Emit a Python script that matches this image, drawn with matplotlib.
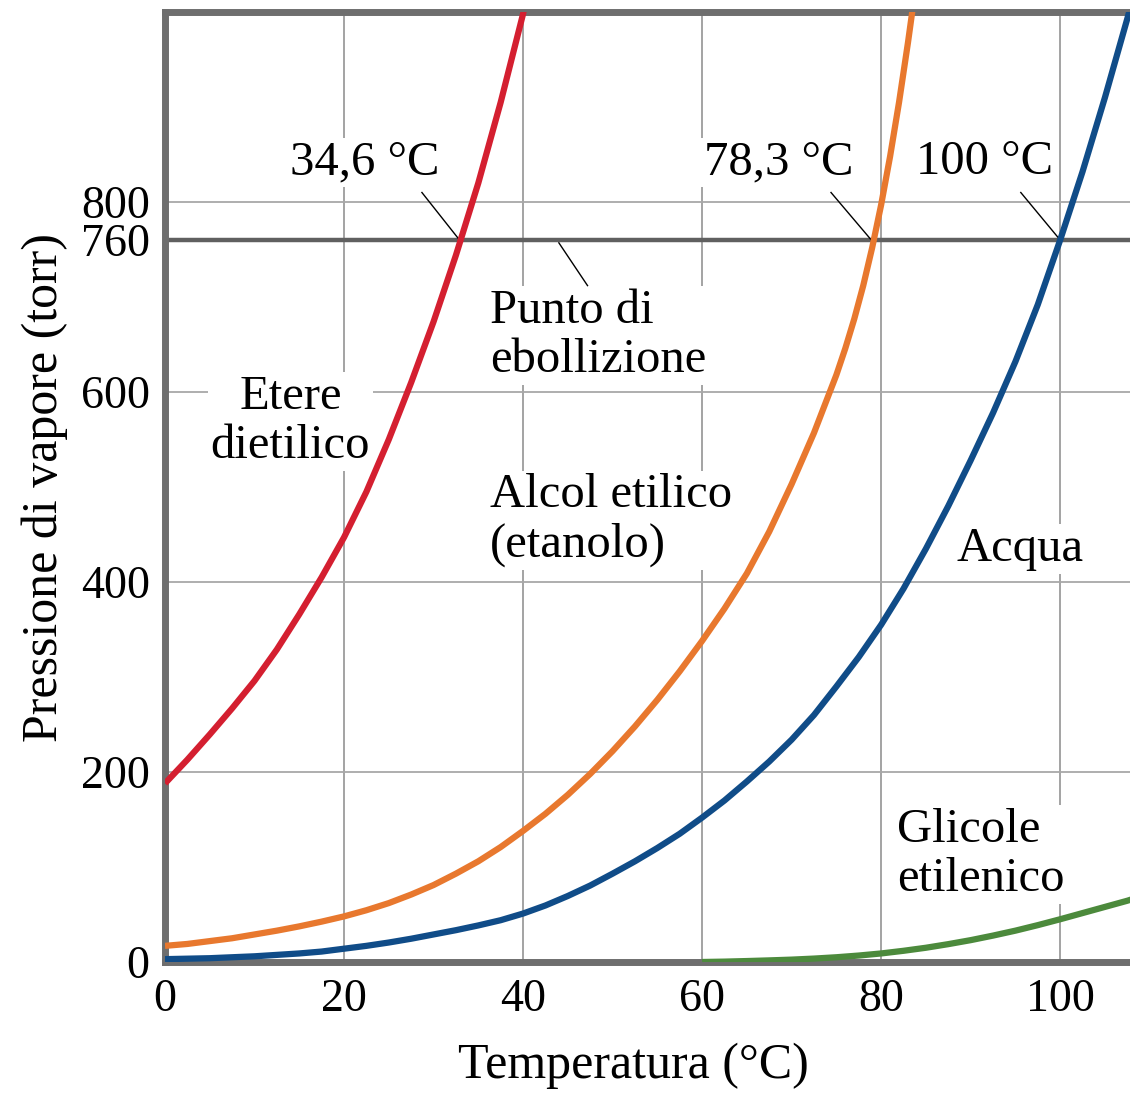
import matplotlib
matplotlib.use('Agg')
import matplotlib.pyplot as plt

# temperatura (°C) e pressione di vapore (torr)
etere_t = [0, 2.5, 5, 7.5, 10, 12.5, 15, 17.5, 20, 22.5, 25, 27.5, 30, 32.5, 35, 37.5, 40, 40.5]
etere_p = [188, 213, 239.5, 267, 296, 329, 366, 405, 447, 495, 550, 610, 674, 744, 820, 905, 998, 1020]

etanolo_t = [0, 2.5, 5, 7.5, 10, 12.5, 15, 17.5, 20, 22.5, 25, 27.5, 30, 32.5, 35, 37.5, 40,
             42.5, 45, 47.5, 50, 52.5, 55, 57.5, 60, 62.5, 65, 67.5, 70, 72.5, 75, 76, 77, 78,
             79, 80, 81, 82, 83, 83.5]
etanolo_p = [17, 19, 22, 25, 29, 33, 37.5, 42.5, 48, 54.5, 62, 71, 81, 93, 106, 121, 138,
             156, 176, 198, 222, 248, 276, 306, 338, 372, 409, 453, 503, 557, 618, 646, 677, 712,
             752, 797, 848, 905, 968, 1002]

acqua_t = [0, 2.5, 5, 7.5, 10, 12.5, 15, 17.5, 20, 22.5, 25, 27.5, 30, 32.5, 35, 37.5, 40,
           42.5, 45, 47.5, 50, 52.5, 55, 57.5, 60, 62.5, 65, 67.5, 70, 72.5, 75, 77.5, 80,
           82.5, 85, 87.5, 90, 92.5, 95, 97.5, 100, 102.5, 105, 107.5, 108]
acqua_p = [3, 3.5, 4, 5, 6, 7.5, 9, 11, 14, 17, 20.5, 24.5, 29, 33.5, 38.5, 44, 51,
           59.5, 69.5, 80.5, 93, 106, 120, 135, 152, 170, 190, 211, 234, 260, 290, 321, 355,
           393, 435, 480, 528, 578, 632, 692, 760, 832, 910, 993, 1010]

glicole_t = [60, 62.5, 65, 67.5, 70, 72.5, 75, 77.5, 80, 82.5, 85, 87.5, 90, 92.5, 95, 97.5,
             100, 102.5, 105, 107.5, 108]
glicole_p = [0, 0.4, 1, 1.7, 2.5, 3.6, 5, 6.8, 9, 11.8, 15, 18.8, 23, 27.8, 33, 38.8,
             45, 51.5, 58, 64.5, 66]

x_ticks = [0, 20, 40, 60, 80, 100]
y_ticks = [0, 200, 400, 600, 760, 800]
y_grid = [200, 400, 600, 800]

FONT = 'Liberation Serif'
TEXT_SIZE = 35
TICK_SIZE = 33


def label(ax, x, y, s, ha='left'):
    # y = linea di base dell'ultima riga
    ax.text(x, y, s, ha=ha, va='baseline', fontsize=TEXT_SIZE, family=FONT,
            linespacing=1.15, multialignment=ha, zorder=2.2,
            bbox=dict(facecolor='white', edgecolor='none', pad=2))


def main():
    fig = plt.figure(figsize=(11.3, 10.93), dpi=100)
    ax = fig.add_axes([165 / 1130, 131 / 1093, 965 / 1130, 950 / 1093])

    ax.set_xlim(0, 107.8)
    ax.set_ylim(0, 1000)

    ax.set_axisbelow(True)
    for x in x_ticks[1:]:
        ax.axvline(x, color='#9c9c9c', lw=1.3, zorder=0.5)
    for y in y_grid:
        ax.axhline(y, color='#a8a8a8', lw=1.3, zorder=0.5)
    ax.axhline(760, color='#606060', lw=3.2, zorder=2)

    style = dict(lw=4.5, zorder=3, solid_capstyle='butt', solid_joinstyle='round')
    ax.plot(etere_t, etere_p, color='#d41f30', **style)
    ax.plot(etanolo_t, etanolo_p, color='#e8782e', **style)
    ax.plot(acqua_t, acqua_p, color='#104c88', **style)
    ax.plot(glicole_t, glicole_p, color='#4c8a3c', **style)

    # etichette dei punti di ebollizione
    label(ax, 22.3, 829, '34,6 °C', ha='center')
    label(ax, 68.6, 829, '78,3 °C', ha='center')
    label(ax, 91.6, 829, '100 °C', ha='center')
    ax.plot([28.7, 32.9], [810, 760], color='black', lw=1.0, zorder=2.5)
    ax.plot([74.4, 78.9], [810, 760], color='black', lw=1.0, zorder=2.5)
    ax.plot([95.6, 100.0], [810, 760], color='black', lw=1.0, zorder=2.5)
    ax.plot([44.0, 47.2], [757, 712], color='black', lw=1.0, zorder=2.5)

    label(ax, 36.3, 621, 'Punto di\nebollizione')
    label(ax, 14.0, 530, 'Etere\ndietilico', ha='center')
    label(ax, 36.3, 427, 'Alcol etilico\n(etanolo)')
    label(ax, 95.5, 422, 'Acqua', ha='center')
    label(ax, 81.8, 75, 'Glicole\netilenico')

    ax.set_xticks(x_ticks)
    ax.set_yticks(y_ticks)
    ax.tick_params(length=0, labelsize=TICK_SIZE)
    ax.tick_params(axis='x', pad=12)
    ax.tick_params(axis='y', pad=11)
    for t in ax.get_xticklabels() + ax.get_yticklabels():
        t.set_family(FONT)

    for side in ['left', 'bottom', 'top']:
        ax.spines[side].set_color('#6e6e6e')
        ax.spines[side].set_linewidth(5)
    ax.spines['right'].set_visible(False)

    fig.text(633 / 1130, 1 - 1066 / 1093, 'Temperatura (°C)', ha='center', va='center',
             fontsize=36, family=FONT)
    fig.text(45 / 1130, 1 - 487 / 1093, 'Pressione di vapore (torr)', ha='center',
             va='center', rotation=90, fontsize=36, family=FONT)

    fig.savefig('out.png', dpi=100, facecolor='white')


if __name__ == "__main__":
    main()
